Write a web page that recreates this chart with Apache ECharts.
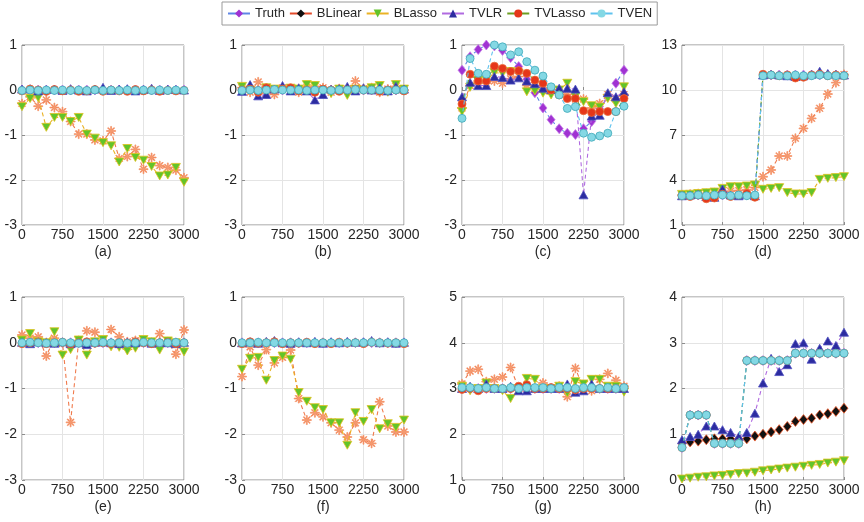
<!DOCTYPE html>
<html><head><meta charset="utf-8">
<script src="https://cdn.jsdelivr.net/npm/echarts@6/dist/echarts.min.js"></script>
<style>html,body{margin:0;padding:0;background:#fff}#c{width:864px;height:522px}</style>
</head><body><div id="c"></div>
<script>
// ---------- data ----------
const xValues = [0,150,300,450,600,750,900,1050,1200,1350,1500,1650,1800,1950,2100,2250,2400,2550,2700,2850,3000];
const xTicks = [0,750,1500,2250,3000];
const seriesNames = ['Truth','BLinear','BLasso','TVLR','TVLasso','TVEN'];
const panelLabels = ['(a)','(b)','(c)','(d)','(e)','(f)','(g)','(h)'];
const yMins = [-3,-3,-3,1,-3,-3,1,0];
const yMaxs = [1,1,1,13,1,1,5,4];
const yIntervals = [1,1,1,3,1,1,1,1];

// (a)
const truthA   = [0,0,0,0,0,0,0,0,0,0,0,0,0,0,0,0,0,0,0,0,0];
const blinearA = [-0.3,-0.15,-0.36,-0.22,-0.39,-0.48,-0.7,-0.98,-0.98,-1.11,-1.13,-0.91,-1.52,-1.48,-1.32,-1.76,-1.5,-1.68,-1.72,-1.78,-1.95];
const blassoA  = [-0.37,-0.19,-0.17,-0.83,-0.61,-0.61,-0.7,-0.61,-0.98,-1.07,-1.17,-1.24,-1.6,-1.3,-1.5,-1.56,-1.7,-1.91,-1.89,-1.72,-2.05];
const tvlrA    = [0.02,0.03,-0.02,0.01,0.02,-0.01,0.03,0.0,-0.02,0.02,0.06,-0.01,0.02,0.03,-0.02,0.01,0.04,-0.01,0.02,0.01,0.0];
const tvlassoA = [-0.02,0.02,0.0,-0.03,0.01,-0.02,0.0,-0.03,-0.02,0.01,-0.03,0.0,-0.02,-0.03,0.01,-0.02,0.0,-0.03,-0.01,-0.02,-0.01];
const tvenA    = [-0.01,0.0,-0.01,0.0,-0.01,0.0,-0.01,0.0,-0.01,0.0,-0.01,0.0,-0.01,0.0,-0.01,0.0,-0.01,0.0,-0.01,0.0,-0.01];
// (b)
const truthB   = [0,0,0,0,0,0,0,0,0,0,0,0,0,0,0,0,0,0,0,0,0];
const blinearB = [0.05,-0.05,0.18,-0.08,-0.1,0.05,0.02,-0.05,0.05,0.08,0.05,-0.05,0.03,0.02,0.2,0.03,0.05,-0.05,0.02,0.08,0.0];
const blassoB  = [0.08,0.0,-0.05,0.05,0.02,0.0,0.04,0.02,0.12,0.1,-0.05,-0.08,0.02,-0.12,0.02,0.0,0.05,0.1,-0.05,0.12,0.02];
const tvlrB    = [-0.03,0.12,-0.13,-0.1,0.02,0.1,-0.02,0.05,-0.02,-0.22,-0.1,0.02,0.03,0.08,-0.02,0.05,0.0,0.05,-0.02,0.08,0.02];
const tvlassoB = [0.0,0.02,-0.05,0.05,0.0,0.02,0.05,-0.02,0.0,-0.05,0.02,0.0,-0.03,0.0,0.02,0.0,0.0,-0.03,0.0,0.0,-0.02];
const tvenB    = [-0.01,0,-0.01,0,0.01,0,0,0,-0.01,0,0,-0.01,0,0,0.01,0,0,0,-0.01,0,0];
// (c)
const truthC   = [0.44,0.74,0.9,1.0,0.98,0.88,0.72,0.52,0.24,-0.06,-0.4,-0.66,-0.86,-0.96,-0.99,-0.86,-0.7,-0.42,-0.14,0.15,0.44];
const blinearC = [-0.4,0.1,0.2,0.15,0.2,0.15,0.25,0.3,0.1,0.1,0.05,0.0,-0.05,-0.1,-0.2,-0.2,-0.4,-0.3,-0.1,-0.2,-0.1];
const blassoC  = [-0.48,0.06,0.22,0.22,0.39,0.37,0.41,0.37,-0.04,-0.02,-0.07,-0.11,0.0,0.15,-0.15,-0.26,-0.35,-0.38,-0.19,-0.3,0.07];
const tvlrC    = [-0.15,0.17,0.1,0.1,0.3,0.28,0.22,0.27,0.2,0.14,0.04,0.01,0.04,0.04,0.02,-2.33,-0.58,-0.56,-0.06,-0.15,-0.04];
const tvlassoC = [-0.31,0.35,0.2,0.2,0.53,0.48,0.41,0.43,0.37,0.22,0.15,0.0,-0.11,-0.19,-0.19,-0.46,-0.5,-0.48,-0.48,-0.48,-0.19];
const tvenC    = [-0.63,0.7,0.37,0.35,1.0,0.96,0.78,0.85,0.63,0.44,0.31,0.07,-0.11,-0.41,-0.37,-0.96,-1.05,-1.02,-0.96,-0.48,-0.36];
// (d)
const truthD   = [3,3,3,3,3,3,3,3,3,3,11,11,11,11,11,11,11,11,11,11,11];
const blinearD = [3.0,3.05,3.1,3.1,3.15,3.2,3.25,3.3,3.35,3.5,4.22,4.67,5.6,5.6,6.78,7.44,8.11,8.78,9.73,10.49,11.04];
const blassoD  = [3.04,3.05,3.1,3.15,3.2,3.44,3.55,3.55,3.6,3.67,3.38,3.44,3.49,3.16,3.07,3.07,3.16,4.04,4.11,4.16,4.22];
const tvlrD    = [2.95,3.0,3.05,2.9,2.85,3.4,3.0,2.95,3.05,2.95,11.0,11.05,11.0,10.95,10.9,10.95,11.05,11.25,11.1,11.05,11.0];
const tvlassoD = [2.95,2.9,3.0,2.75,2.8,3.05,2.9,3.0,3.1,2.85,11.05,11.0,10.95,11.0,10.8,10.85,11.0,11.05,10.95,11.0,10.95];
const tvenD    = [2.95,2.95,3.0,2.95,3.0,3.0,2.95,3.0,2.95,3.0,10.95,11.0,10.95,10.95,11.0,10.95,10.95,11.0,10.95,10.95,10.95];
// (e)
const truthE   = [0,0,0,0,0,0,0,0,0,0,0,0,0,0,0,0,0,0,0,0,0];
const blinearE = [0.17,0.1,0.13,-0.29,0.1,0.0,-1.74,0.05,0.26,0.23,0.02,0.29,0.13,0.02,0.05,0.03,0.0,0.2,0.02,-0.25,0.28];
const blassoE  = [0.06,0.2,0.02,0.0,0.24,-0.27,-0.15,0.06,-0.27,0.02,0.07,-0.09,-0.1,-0.18,-0.12,0.07,0.02,-0.16,0.04,0.0,-0.2];
const tvlrE    = [0.01,-0.02,0.02,0.0,-0.01,0.02,-0.02,0.0,-0.04,0.01,0.02,0.0,-0.02,0.01,0.0,0.02,-0.01,0.01,0.0,-0.02,0.01];
const tvlassoE = [-0.02,0.0,0.01,-0.02,0.0,0.01,-0.03,0.0,0.02,-0.01,0.0,-0.02,0.0,-0.01,0.02,0.0,-0.02,0.0,0.01,-0.02,0.0];
const tvenE    = [0,0.01,0,-0.01,0,0.01,0,-0.01,0,0,0.01,0,0,-0.01,0,0.01,0,0,0,0.01,0];
// (f)
const truthF   = [0,0,0,0,0,0,0,0,0,0,0,0,0,0,0,0,0,0,0,0,0];
const blinearF = [-0.74,-0.09,-0.49,-0.15,-0.44,-0.32,-0.16,-1.22,-1.69,-1.53,-1.62,-1.75,-1.91,-2.06,-1.75,-2.12,-2.2,-1.29,-1.82,-1.95,-1.95];
const blassoF  = [-0.58,-0.34,-0.32,-0.82,-0.39,-0.29,-0.36,-1.09,-1.28,-1.42,-1.46,-1.75,-1.75,-2.24,-1.53,-1.72,-1.46,-1.88,-1.77,-1.85,-1.69];
const tvlrF    = [0.0,0.02,-0.01,0.03,0.05,0.0,-0.01,0.02,0.0,0.03,-0.01,0.02,0.0,0.03,0.01,0.02,0.05,0.0,0.02,-0.01,0.01];
const tvlassoF = [-0.02,0.02,-0.01,0.0,0.02,-0.02,0.0,-0.01,0.01,-0.02,0.0,-0.02,0.01,-0.01,0.0,-0.02,0.01,0.0,-0.01,0.0,-0.02];
const tvenF    = [0,0,0.01,0,0,0,0,0,0,0,0,0,0,0,0,0,0.01,0,0,0,0];
// (g)
const truthG   = [3,3,3,3,3,3,3,3,3,3,3,3,3,3,3,3,3,3,3,3,3];
const blinearG = [3.1,3.38,3.42,3.15,3.2,3.25,3.46,3.0,3.0,3.0,3.12,3.0,3.05,2.82,3.44,3.0,2.95,3.2,3.33,3.18,3.05];
const blassoG  = [3.05,2.95,3.0,3.12,3.0,2.95,2.78,3.0,3.22,3.2,3.0,3.0,3.05,2.9,3.15,3.1,3.2,3.2,3.05,3.05,2.92];
const tvlrG    = [3.0,3.05,3.0,3.1,3.0,3.0,3.05,2.95,2.95,3.0,3.0,3.0,3.0,3.1,2.92,2.95,3.1,3.0,3.0,3.0,3.0];
const tvlassoG = [2.98,3.0,2.95,3.0,3.0,3.0,3.0,3.05,3.08,3.0,3.0,3.02,3.0,3.0,2.97,3.0,3.0,3.0,3.0,3.0,3.02];
const tvenG    = [3.02,3.02,3.0,3.02,3.0,3.0,3.02,3.0,3.02,3.02,3.02,3.0,3.02,3.02,3.0,3.02,3.02,3.0,3.02,3.0,3.02];
// (h)
const truthH   = [0.71,1.42,1.42,1.42,0.8,0.8,0.8,0.8,2.61,2.61,2.61,2.61,2.61,2.61,2.77,2.77,2.77,2.77,2.77,2.77,2.77];
const blinearH = [0.8,0.83,0.85,0.88,0.9,0.9,0.9,0.9,0.9,0.96,1.0,1.05,1.1,1.17,1.28,1.32,1.35,1.42,1.45,1.5,1.57];
const blassoH  = [0.02,0.04,0.06,0.07,0.09,0.1,0.12,0.14,0.15,0.17,0.2,0.22,0.24,0.26,0.28,0.3,0.32,0.34,0.37,0.39,0.42];
const tvlrH    = [0.88,0.95,1.0,1.18,1.18,1.1,1.04,0.95,1.04,1.46,2.12,2.66,2.37,2.52,2.98,3.0,2.64,2.88,3.04,2.94,3.23];
const tvlassoH = [0.71,1.42,1.42,1.42,0.8,0.8,0.8,0.8,2.61,2.61,2.61,2.61,2.61,2.61,2.77,2.77,2.77,2.77,2.77,2.77,2.77];
const tvenH    = [0.71,1.42,1.42,1.42,0.8,0.8,0.8,0.8,2.61,2.61,2.61,2.61,2.61,2.61,2.77,2.77,2.77,2.77,2.77,2.77,2.77];

const panels = [
  [truthA,blinearA,blassoA,tvlrA,tvlassoA,tvenA],
  [truthB,blinearB,blassoB,tvlrB,tvlassoB,tvenB],
  [truthC,blinearC,blassoC,tvlrC,tvlassoC,tvenC],
  [truthD,blinearD,blassoD,tvlrD,tvlassoD,tvenD],
  [truthE,blinearE,blassoE,tvlrE,tvlassoE,tvenE],
  [truthF,blinearF,blassoF,tvlrF,tvlassoF,tvenF],
  [truthG,blinearG,blassoG,tvlrG,tvlassoG,tvenG],
  [truthH,blinearH,blassoH,tvlrH,tvlassoH,tvenH]
];

// ---------- styles ----------
const ASTER = 'path://M-1,-10L1,-10L1,10L-1,10Z M-10,-1L10,-1L10,1L-10,1Z M-7.8,-6.4L-6.4,-7.8L7.8,6.4L6.4,7.8Z M6.4,-7.8L7.8,-6.4L-6.4,7.8L-7.8,6.4Z';
const styles = [
  {symbol:'diamond', size:[8,10], color:'#a032d2', border:'#c77ee8', line:'#5f86e6'},
  {symbol:ASTER, size:9, color:'#f0683a', border:'#f59a70', line:'#f07a4c'},
  {symbol:'triangle', rotate:180, size:[9,8], color:'#62c42a', border:'#e0c21e', line:'#eab224'},
  {symbol:'triangle', size:[9,8], color:'#2c2ca0', border:'#5050c0', line:'#b06ae0'},
  {symbol:'circle', size:8, color:'#e6361a', border:'#e86a3a', line:'#6c9e22'},
  {symbol:'circle', size:8, color:'#84d8e4', border:'#3fa8b8', line:'#5fc2ee'}
];
const legendStyles = [
  {symbol:'diamond', color:'#a032d2', border:'#a032d2', line:'#5f86e6'},
  {symbol:'diamond', color:'#111', border:'#111', line:'#e24a2a'},
  {symbol:'triangle', rotate:180, color:'#62c42a', border:'#62c42a', line:'#eab224'},
  {symbol:'triangle', color:'#2c2ca0', border:'#2c2ca0', line:'#b06ae0'},
  {symbol:'circle', color:'#e6361a', border:'#e6361a', line:'#6c9e22'},
  {symbol:'circle', color:'#84d8e4', border:'#84d8e4', line:'#5fc2ee'}
];

const FONT = 'Liberation Sans, Arial, Helvetica, sans-serif';
const colLefts = [22, 242, 462, 682];
const gridW = 162;
const grids = [], xAxes = [], yAxes = [], series = [];

// dummy series for legend
seriesNames.forEach((n,i)=>{
  const s = legendStyles[i];
  series.push({type:'line', name:n, xAxisIndex:0, yAxisIndex:0, data:[], symbol:s.symbol, symbolRotate:s.rotate||0,
    itemStyle:{color:s.color, borderColor:s.border}, lineStyle:{color:s.line, width:1.2, type:'solid'}});
});

for (let p=0;p<8;p++){
  const row = Math.floor(p/4), col = p%4;
  grids.push({left:colLefts[col], width:gridW, top: row===0?45:297, height: row===0?180:183,
    show:true, borderColor:'#8c8c8c', borderWidth:1, backgroundColor:'#fff'});
  xAxes.push({type:'value', gridIndex:p, min:0, max:3000, interval:750,
    name:panelLabels[p], nameLocation:'middle', nameGap:20,
    nameTextStyle:{fontSize:14, color:'#262626', fontFamily:FONT},
    axisLine:{show:false}, axisTick:{show:true, inside:true, length:3, lineStyle:{color:'#8c8c8c'}},
    axisLabel:{fontSize:14, color:'#262626', fontFamily:FONT, margin:3, formatter:v=>String(v)},
    splitLine:{show:true, lineStyle:{color:'#e4e4e4', width:1}}});
  yAxes.push({type:'value', gridIndex:p, min:yMins[p], max:yMaxs[p], interval:yIntervals[p],
    axisLine:{show:false}, axisTick:{show:true, inside:true, length:3, lineStyle:{color:'#8c8c8c'}},
    axisLabel:{fontSize:14, color:'#262626', fontFamily:FONT, margin:5, formatter:v=>String(v)},
    splitLine:{show:true, lineStyle:{color:'#e4e4e4', width:1}}});
  panels[p].forEach((vals,si)=>{
    let st = styles[si];
    if (p===7 && si===1) st = {symbol:'diamond', size:[8,10], color:'#111', border:'#f05a2a', line:'#e24a2a'};
    series.push({type:'line', name:seriesNames[si], xAxisIndex:p, yAxisIndex:p,
      data: xValues.map((x,k)=>[x, vals[k]]),
      symbol:st.symbol, symbolSize:st.size, symbolRotate:st.rotate||0, showAllSymbol:true,
      itemStyle:{color:st.color, borderColor:st.border, borderWidth:0.8},
      lineStyle:{color:st.line, width:1.1, type:[4,3]},
      emphasis:{disabled:true}, animation:false, z:2+si});
  });
}

const chart = echarts.init(document.getElementById('c'), null, {renderer:'canvas'});
chart.setOption({
  animation:false,
  backgroundColor:'#fff',
  textStyle:{fontFamily:FONT},
  legend:{data:seriesNames, left:222, top:2, padding:[5,5], itemGap:4, itemWidth:22, itemHeight:10,
    borderColor:'#9a9a9a', borderWidth:1, backgroundColor:'#fff',
    textStyle:{fontSize:13, color:'#262626', fontFamily:FONT}},
  grid:grids, xAxis:xAxes, yAxis:yAxes, series:series
});
</script></body></html>
